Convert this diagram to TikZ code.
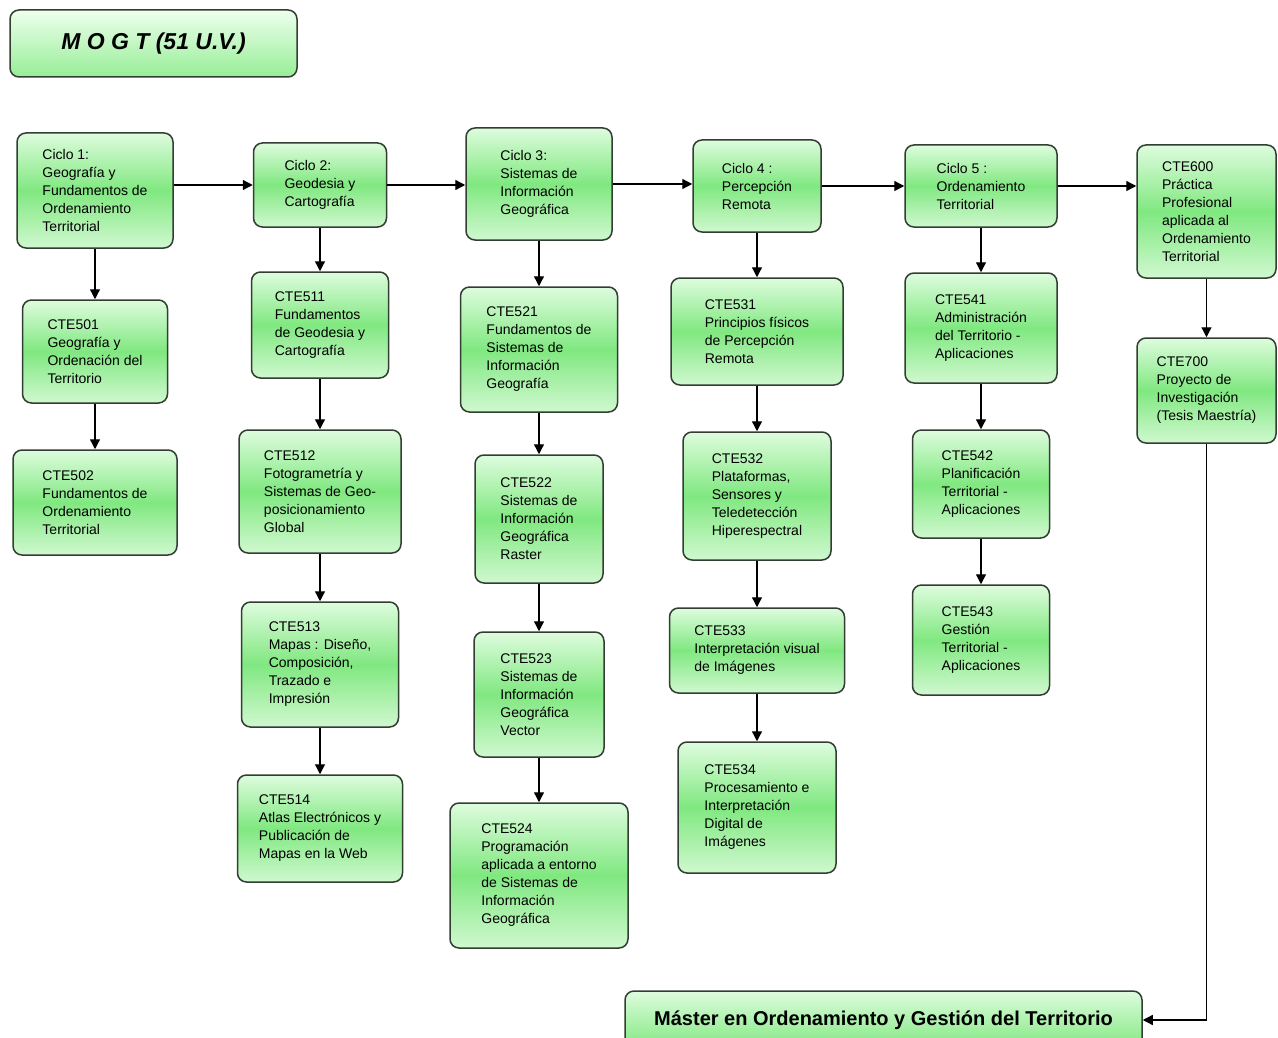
\documentclass[tikz,border=0pt]{standalone}
\usepackage{fontspec}
\setmainfont{Liberation Sans}
\usetikzlibrary{arrows.meta}
\definecolor{boxtop}{RGB}{222,252,222}
\definecolor{boxmid}{RGB}{128,232,128}
\definecolor{boxbot}{RGB}{208,248,208}
\definecolor{boxline}{RGB}{50,62,50}
\definecolor{headtop}{RGB}{238,255,238}
\definecolor{headbot}{RGB}{150,238,150}
\tikzstyle{course} = [rectangle, rounded corners=9pt, draw=boxline, line width=1.5pt, top color=boxtop, bottom color=boxbot, middle color=boxmid, align=left, inner sep=4pt, font=\fontsize{14}{18}\selectfont]
\tikzstyle{heading} = [rectangle, rounded corners=9pt, draw=boxline, line width=1.5pt, top color=headtop, bottom color=headbot, text centered]
\tikzstyle{arrow} = [line width=1.3pt, -{Triangle[length=10pt, width=10pt]}]

\begin{document}
\begin{tikzpicture}[x=1pt, y=-1pt]
\useasboundingbox (0,0) rectangle (1278,1038);

% Title
\node (mogt) [heading, minimum width=287pt, minimum height=67pt, font=\bfseries\itshape\fontsize{23}{27}\selectfont] at (153.5,43.5) {M O G T (51 U.V.)};

% Ciclo 1
\node (c1) [course, minimum width=156pt, minimum height=115pt] at (95,190.5) {Ciclo 1:\\Geografía y\\Fundamentos de\\Ordenamiento\\Territorial};
\node (e501) [course, minimum width=145pt, minimum height=103pt] at (95,351.5) {CTE501\\Geografía y\\Ordenación del\\Territorio};
\node (e502) [course, minimum width=164pt, minimum height=105pt] at (95,502.5) {CTE502\\Fundamentos de\\Ordenamiento\\Territorial};

% Ciclo 2
\node (c2) [course, minimum width=133pt, minimum height=84pt] at (320,185) {Ciclo 2:\\Geodesia y\\Cartografía};
\node (e511) [course, minimum width=137pt, minimum height=106pt] at (320,325) {CTE511\\Fundamentos\\de Geodesia y\\Cartografía};
\node (e512) [course, minimum width=162pt, minimum height=123pt] at (320,491.5) {CTE512\\Fotogrametría y\\Sistemas de Geo-\\posicionamiento\\Global};
\node (e513) [course, minimum width=157pt, minimum height=125pt] at (320,664.5) {CTE513\\Mapas : Diseño,\\Composición,\\Trazado e\\Impresión};
\node (e514) [course, minimum width=165pt, minimum height=107pt] at (320,828.5) {CTE514\\Atlas Electrónicos y\\Publicación de\\Mapas en la Web};

% Ciclo 3
\node (c3) [course, minimum width=146pt, minimum height=112pt] at (539,184) {Ciclo 3:\\Sistemas de\\Información\\Geográfica};
\node (e521) [course, minimum width=157pt, minimum height=125pt] at (539,349.5) {CTE521\\Fundamentos de\\Sistemas de\\Información\\Geografía};
\node (e522) [course, minimum width=128pt, minimum height=128pt] at (539,519) {CTE522\\Sistemas de\\Información\\Geográfica\\Raster};
\node (e523) [course, minimum width=130pt, minimum height=125pt] at (539,694.5) {CTE523\\Sistemas de\\Información\\Geográfica\\Vector};
\node (e524) [course, minimum width=178pt, minimum height=145pt] at (539,875.5) {CTE524\\Programación\\aplicada a entorno\\de Sistemas de\\Información\\Geográfica};

% Ciclo 4
\node (c4) [course, minimum width=128pt, minimum height=92pt] at (757,186) {Ciclo 4 :\\Percepción\\Remota};
\node (e531) [course, minimum width=172pt, minimum height=107pt] at (757,331.5) {CTE531\\Principios físicos\\de Percepción\\Remota};
\node (e532) [course, minimum width=148pt, minimum height=128pt] at (757,496) {CTE532\\Plataformas,\\Sensores y\\Teledetección\\Hiperespectral};
\node (e533) [course, minimum width=175pt, minimum height=85pt] at (757,650.5) {CTE533\\Interpretación visual\\de Imágenes};
\node (e534) [course, minimum width=158pt, minimum height=131pt] at (757,807.5) {CTE534\\Procesamiento e\\Interpretación\\Digital de\\Imágenes};

% Ciclo 5
\node (c5) [course, minimum width=152pt, minimum height=82pt] at (981,186) {Ciclo 5 :\\Ordenamiento\\Territorial};
\node (e541) [course, minimum width=152pt, minimum height=110pt] at (981,328) {CTE541\\Administración\\del Territorio -\\Aplicaciones};
\node (e542) [course, minimum width=137pt, minimum height=108pt] at (981,484) {CTE542\\Planificación\\Territorial -\\Aplicaciones};
\node (e543) [course, minimum width=137pt, minimum height=110pt] at (981,640) {CTE543\\Gestión\\Territorial -\\Aplicaciones};

% Practica y proyecto
\node (e600) [course, minimum width=139pt, minimum height=133pt] at (1206.5,211.5) {CTE600\\Práctica\\Profesional\\aplicada al\\Ordenamiento\\Territorial};
\node (e700) [course, minimum width=139pt, minimum height=105pt] at (1206.5,390.5) {CTE700\\Proyecto de\\Investigación\\(Tesis Maestría)};

% Master
\node (master) [course, align=center, minimum width=517pt, minimum height=58pt, bottom color=boxmid, font=\bfseries\fontsize{20}{24}\selectfont] at (883.5,1020) {Máster en Ordenamiento y Gestión del Territorio};

% Arrows
\draw [arrow] (c1.east |- c2.west) -- (c2.west);
\draw [arrow] (c2.east) -- (c2.east -| c3.west);
\draw [arrow] (c3.east) -- (c3.east -| c4.west);
\draw [arrow] (c4.east) -- (c4.east -| c5.west);
\draw [arrow] (c5.east) -- (c5.east -| e600.west);
\draw [arrow] (c1) -- (e501);
\draw [arrow] (e501) -- (e502);
\draw [arrow] (c2) -- (e511);
\draw [arrow] (e511) -- (e512);
\draw [arrow] (e512) -- (e513);
\draw [arrow] (e513) -- (e514);
\draw [arrow] (c3) -- (e521);
\draw [arrow] (e521) -- (e522);
\draw [arrow] (e522) -- (e523);
\draw [arrow] (e523) -- (e524);
\draw [arrow] (c4) -- (e531);
\draw [arrow] (e531) -- (e532);
\draw [arrow] (e532) -- (e533);
\draw [arrow] (e533) -- (e534);
\draw [arrow] (c5) -- (e541);
\draw [arrow] (e541) -- (e542);
\draw [arrow] (e542) -- (e543);
\draw [arrow] (e600) -- (e700);
\draw [arrow] (e700.south) |- (master.east);

\end{tikzpicture}
\end{document}
